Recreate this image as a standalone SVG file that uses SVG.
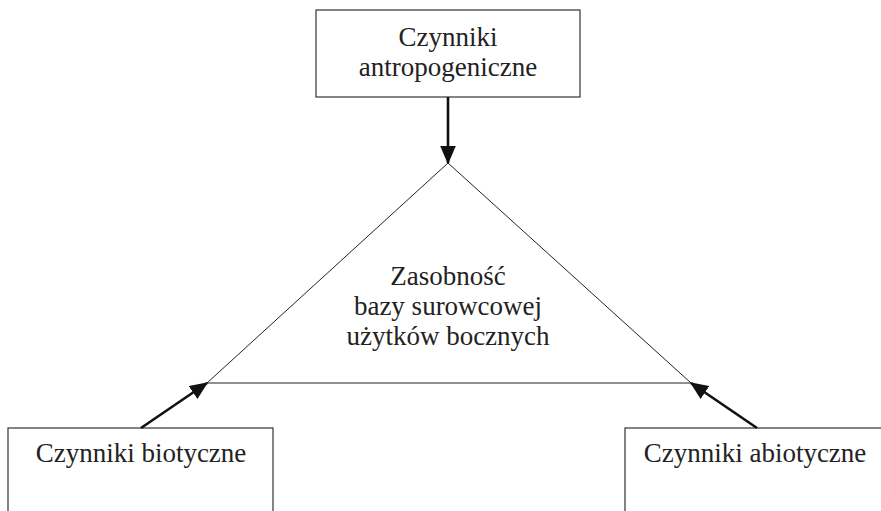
<svg xmlns="http://www.w3.org/2000/svg" width="881" height="511" viewBox="0 0 881 511">
<style>
.box{fill:#fff;stroke:#333;stroke-width:1.2}
.tri{fill:none;stroke:#222;stroke-width:1}
.arr{stroke:#111;stroke-width:2.6;fill:none;marker-end:url(#ah)}
text{font-family:"Liberation Serif","Times New Roman",serif;font-size:27px;fill:#222;text-anchor:middle}
</style>
<defs>
<marker id="ah" markerWidth="7" markerHeight="6" refX="6.5" refY="3" orient="auto" markerUnits="strokeWidth" viewBox="0 0 7 6">
<path d="M0,0 L7,3 L0,6 Z" fill="#111"/>
</marker>
</defs>
<rect width="881" height="511" fill="#fff"/>
<g id="center">
<polygon class="tri" points="448,163 207,383 691,383"/>
<text x="448" y="285">Zasobność</text>
<text x="448" y="315">bazy surowcowej</text>
<text x="448" y="345">użytków bocznych</text>
</g>
<g id="antropogeniczne">
<rect class="box" x="316" y="10" width="264" height="87"/>
<text x="448" y="46">Czynniki</text>
<text x="448" y="76">antropogeniczne</text>
</g>
<g id="biotyczne">
<rect class="box" x="8" y="428" width="265" height="100"/>
<text x="141" y="462">Czynniki biotyczne</text>
</g>
<g id="abiotyczne">
<rect class="box" x="625" y="428" width="270" height="100"/>
<text x="755" y="462">Czynniki abiotyczne</text>
</g>
<g id="connectors">
<line class="arr" x1="448" y1="97" x2="448" y2="163"/>
<line class="arr" x1="141" y1="428" x2="207" y2="383"/>
<line class="arr" x1="757" y1="428" x2="691" y2="383"/>
</g>
</svg>
